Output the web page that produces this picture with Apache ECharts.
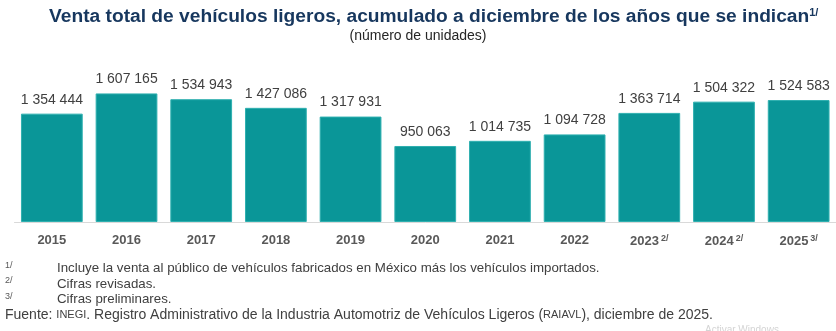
<!DOCTYPE html>
<html><head><meta charset="utf-8">
<script src="https://cdn.jsdelivr.net/npm/echarts@6/dist/echarts.min.js"></script>
<style>html,body{margin:0;padding:0;background:#fff}#c{width:836px;height:331px}</style>
</head><body><div id="c"></div>
<script>
const years = ['2015','2016','2017','2018','2019','2020','2021','2022','2023','2024','2025'];
const yearNotes = ['','','','','','','','','2/','2/','3/'];
const sales = [1354444,1607165,1534943,1427086,1317931,950063,1014735,1094728,1363714,1504322,1524583];
const titleText = 'Venta total de vehículos ligeros, acumulado a diciembre de los años que se indican';
const titleNote = '1/';
const subtitleText = '(número de unidades)';
const notes = [
  ['1/','Incluye la venta al público de vehículos fabricados en México más los vehículos importados.'],
  ['2/','Cifras revisadas.'],
  ['3/','Cifras preliminares.']
];

const fmt = v => String(v).replace(/\B(?=(\d{3})+(?!\d))/g, ' ');
const F = 'Liberation Sans, Arial, sans-serif';
const chart = echarts.init(document.getElementById('c'));
const graphics = [];
notes.forEach((n, i) => {
  graphics.push({type:'text', left:5, top:261 + i*15.5, style:{text:n[0], font:'9px '+F, fill:'#595959'}});
  graphics.push({type:'text', left:57, top:262 + i*15.5, style:{text:n[1], font:'13.3px '+F, fill:'#404040'}});
});
graphics.push({type:'text', left:5, top:308, style:{
  fill:'#404040',
  text:'{a|Fuente: }{s|INEGI}{a|. Registro Administrativo de la Industria Automotriz de Vehículos Ligeros (}{s|RAIAVL}{a|), diciembre de 2025.}',
  rich:{a:{fontFamily:F, fontSize:14, fill:'#404040'}, s:{fontFamily:F, fontSize:11, fill:'#404040'}}
}});
graphics.push({type:'text', left:705, top:325, style:{text:'Activar Windows', font:'10px '+F, fill:'#d4d4d4'}});

chart.setOption({
  animation:false,
  title:[{
    text:'{t|'+titleText+'}{s|'+titleNote+'}', left:44, top:2,
    textStyle:{rich:{t:{fontFamily:F, fontSize:19.2, fontWeight:'bold', color:'#17375E'}, s:{fontFamily:F, fontSize:11, fontWeight:'bold', color:'#17375E', verticalAlign:'top', padding:[0,0,8,0]}}}
  },{
    text:subtitleText, left:'center', top:24, textStyle:{fontFamily:F, fontSize:14, fontWeight:'normal', color:'#262626'}
  }],
  grid:{left:14.5, width:825, top:62, bottom:109, containLabel:false},
  xAxis:{type:'category', data:years,
    axisLine:{lineStyle:{color:'#d9d9d9', width:1}}, axisTick:{show:false},
    axisLabel:{interval:0, margin:12, formatter:(v,i)=> yearNotes[i] ? '{y|'+v+'}{n|'+yearNotes[i]+'}' : '{y|'+v+'}',
      rich:{y:{fontFamily:F, fontSize:13, fontWeight:'bold', color:'#595959'}, n:{fontFamily:F, fontSize:9, fontWeight:'bold', color:'#595959', verticalAlign:'top', padding:[0,0,6,2]}}}},
  yAxis:{type:'value', min:0, max:2000000, show:false, splitLine:{show:false}},
  series:[{type:'bar', data:sales, barCategoryGap:'17.3%',
    itemStyle:{color:'#0A9698', borderColor:'#2FB0B0', borderWidth:1},
    label:{show:true, position:'top', distance:7, formatter:p=>fmt(p.value), fontFamily:F, fontSize:14, color:'#404040'}}],
  graphic:graphics
});
</script></body></html>
